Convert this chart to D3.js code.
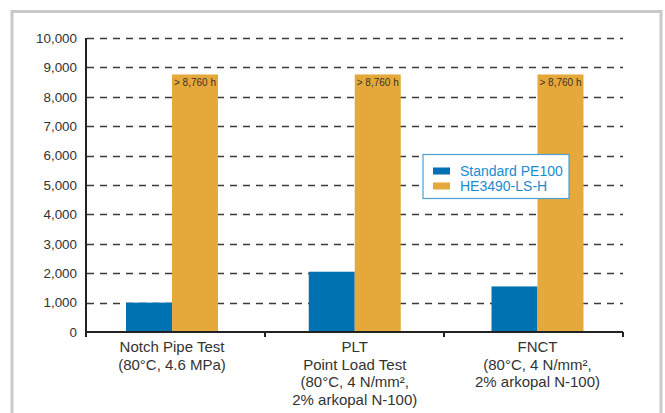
<!DOCTYPE html>
<html>
<head>
<meta charset="utf-8">
<script src="https://cdn.jsdelivr.net/npm/d3@7/dist/d3.min.js"></script>
<style>
  html, body { margin: 0; padding: 0; background: #fff; }
  svg { display: block; font-family: "Liberation Sans", Arial, Helvetica, sans-serif; }
</style>
</head>
<body>
<svg id="chart" width="665" height="413"></svg>
<script>
// ---- data ----
const categories = ["Notch Pipe Test", "PLT", "FNCT"];
const categoryLabels = [
  ["Notch Pipe Test", "(80°C, 4.6 MPa)"],
  ["PLT", "Point Load Test", "(80°C, 4 N/mm²,", "2% arkopal N-100)"],
  ["FNCT", "(80°C, 4 N/mm²,", "2% arkopal N-100)"]
];
const seriesNames = ["Standard PE100", "HE3490-LS-H"];
const standardPE100 = [1000, 2050, 1550];
const he3490 = [8760, 8760, 8760];
const barLabels = ["> 8,760 h", "> 8,760 h", "> 8,760 h"];
const yTicks = [0, 1000, 2000, 3000, 4000, 5000, 6000, 7000, 8000, 9000, 10000];
const colors = ["#0071b1", "#e5a93b"];

const seriesValues = [standardPE100, he3490];

const svg = d3.select("#chart");

// frame
svg.append("rect")
  .attr("x", 12).attr("y", 11.5)
  .attr("width", 649).attr("height", 420)
  .attr("fill", "#fff")
  .attr("stroke", "#c9c9c9").attr("stroke-width", 3);

const plot = { left: 86, right: 623, top: 38, bottom: 332 };

const y = d3.scaleLinear().domain([0, 10000]).range([plot.bottom, plot.top]);
// axis bands (tick separators)
const x0 = d3.scaleBand().domain(categories).range([plot.left, plot.right]).padding(0);
const bw = x0.bandwidth();
// group centres
const xc = d3.scalePoint().domain(categories).range([172, 537.5]);
const barW = 46;
const x1 = d3.scaleBand().domain(seriesNames).range([-barW, barW]).padding(0);

// gridlines
svg.append("g")
  .selectAll("line")
  .data(yTicks.filter(d => d > 0))
  .join("line")
  .attr("x1", plot.left + 1).attr("x2", plot.right)
  .attr("y1", d => Math.round(y(d)) + 0.5).attr("y2", d => Math.round(y(d)) + 0.5)
  .attr("stroke", "#3a3a3a").attr("stroke-width", 1.3)
  .attr("stroke-dasharray", "7,6");

// y axis labels
const yAxis = d3.axisLeft(y).tickValues(yTicks).tickSize(0).tickPadding(9)
  .tickFormat(d3.format(","));
const yG = svg.append("g").attr("transform", `translate(${plot.left},0)`).call(yAxis);
yG.select(".domain").remove();
yG.selectAll("text").attr("font-size", 13.4).attr("fill", "#333")
  .attr("font-family", "'Liberation Sans', Arial, sans-serif");

// bars
const groups = svg.append("g")
  .selectAll("g")
  .data(categories)
  .join("g")
  .attr("transform", d => `translate(${xc(d)},0)`);

groups.selectAll("rect")
  .data((d, i) => seriesNames.map((s, j) => ({ s, v: seriesValues[j][i], j })))
  .join("rect")
  .attr("x", d => x1(d.s))
  .attr("width", x1.bandwidth())
  .attr("y", d => y(d.v))
  .attr("height", d => y(0) - y(d.v))
  .attr("fill", d => colors[d.j]);

groups.append("text")
  .attr("x", x1(seriesNames[1]) + 2)
  .attr("y", (d, i) => y(he3490[i]) + 12)
  .attr("font-size", 10)
  .attr("fill", "#3b3326")
  .text((d, i) => barLabels[i]);

// y axis line
svg.append("line")
  .attr("x1", plot.left).attr("x2", plot.left)
  .attr("y1", plot.top).attr("y2", plot.bottom + 5)
  .attr("stroke", "#222").attr("stroke-width", 2);

// x axis
const xAxis = d3.axisBottom(x0).tickSize(5).tickFormat("");
const xG = svg.append("g").attr("transform", `translate(0,${plot.bottom})`).call(xAxis);
xG.select(".domain").attr("stroke", "#222").attr("stroke-width", 2)
  .attr("d", `M${plot.left},0H${plot.right}`);
xG.selectAll(".tick").remove();
const tickPos = [plot.left].concat(categories.map(c => x0(c) + bw));
xG.selectAll("line.t").data(tickPos).join("line")
  .attr("class", "t")
  .attr("x1", d => d).attr("x2", d => d)
  .attr("y1", 0).attr("y2", 5)
  .attr("stroke", "#222").attr("stroke-width", 2);

// x labels
const xl = svg.append("g");
categories.forEach((c, i) => {
  const t = xl.append("text")
    .attr("x", xc(c))
    .attr("y", 352)
    .attr("text-anchor", "middle")
    .attr("font-size", 15)
    .attr("fill", "#333");
  categoryLabels[i].forEach((line, k) => {
    t.append("tspan").attr("x", xc(c)).attr("y", 352 + k * 17.6).text(line);
  });
});

// legend
const lg = svg.append("g");
lg.append("rect")
  .attr("x", 423).attr("y", 154.5).attr("width", 146).attr("height", 44)
  .attr("fill", "#fff").attr("stroke", "#4c9fd3").attr("stroke-width", 1.2);
seriesNames.forEach((s, i) => {
  lg.append("rect")
    .attr("x", 433).attr("y", 167.5 + i * 15).attr("width", 17).attr("height", 7)
    .attr("fill", colors[i]);
  lg.append("text")
    .attr("x", 460).attr("y", 176 + i * 14.5)
    .attr("font-size", 14)
    .attr("fill", "#1b8bd0")
    .text(s);
});
</script>
</body>
</html>
